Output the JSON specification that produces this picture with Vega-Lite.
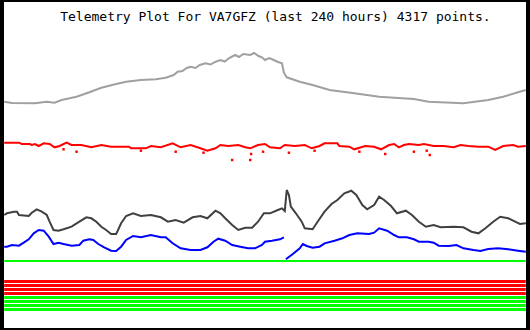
{
  "$schema": "https://vega.github.io/schema/vega-lite/v6.json",
  "width": 530,
  "height": 330,
  "autosize": {"type": "fit", "contains": "padding"},
  "padding": 0,
  "background": "white",
  "config": {"view": {"stroke": "black", "strokeWidth": 4}},
  "datasets": {
    "title": [{"h": 124.8, "v": 309, "label": "Telemetry Plot For VA7GFZ (last 240 hours) 4317 points."}],
    "gray": [
      {"h":0,"v":228.3},{"h":3.6,"v":227},{"h":14.1,"v":226.7},{"h":19.6,"v":228.3},{"h":23.2,"v":227.3},{"h":26.4,"v":230},{"h":33.3,"v":233.3},{"h":39.2,"v":237.7},{"h":44.7,"v":242.3},{"h":51.5,"v":246},{"h":56.1,"v":248.3},{"h":62.9,"v":250},{"h":69.8,"v":250.7},{"h":74.3,"v":252.3},{"h":78,"v":255},{"h":79.8,"v":258.3},{"h":82,"v":259},{"h":84,"v":262},{"h":85.8,"v":263.3},{"h":88,"v":262},{"h":90,"v":265},{"h":92.6,"v":266.7},{"h":95,"v":265.5},{"h":97,"v":268},{"h":99.5,"v":270},{"h":101.5,"v":268.5},{"h":103.5,"v":272},{"h":106.3,"v":275},{"h":108,"v":273},{"h":110,"v":276},{"h":113.2,"v":275},{"h":115,"v":277},{"h":117,"v":274},{"h":118.6,"v":272.7},{"h":120,"v":270},{"h":122,"v":272},{"h":124,"v":270},{"h":126,"v":268},{"h":127.8,"v":266.7},{"h":128.7,"v":257.3},{"h":130,"v":252.7},{"h":136,"v":248.3},{"h":141.9,"v":245},{"h":149.7,"v":240},{"h":161.1,"v":236.7},{"h":172.5,"v":233.3},{"h":188.5,"v":231},{"h":195.3,"v":228.3},{"h":211.3,"v":226.7},{"h":222.7,"v":230},{"h":229.6,"v":233.3},{"h":236.4,"v":237.7},{"h":240,"v":240}
    ],
    "red": [
      {"h":0,"v":187.3},{"h":6.8,"v":187.3},{"h":8.1,"v":186},{"h":11.8,"v":186},{"h":12.7,"v":185},{"h":14.1,"v":186},{"h":15.9,"v":184},{"h":18.2,"v":186.7},{"h":20.9,"v":186},{"h":23.2,"v":182.7},{"h":25.5,"v":184},{"h":28.7,"v":187.3},{"h":31,"v":185},{"h":35.5,"v":185},{"h":40.1,"v":182.7},{"h":44.7,"v":185},{"h":49.2,"v":183.3},{"h":57.4,"v":183.3},{"h":58.4,"v":181.7},{"h":65.2,"v":181.7},{"h":67.5,"v":184},{"h":72.1,"v":182.7},{"h":77.5,"v":186.7},{"h":81.2,"v":182.7},{"h":85.8,"v":185},{"h":90.3,"v":181.7},{"h":93.5,"v":179.3},{"h":97.2,"v":181.7},{"h":99.5,"v":185},{"h":103.1,"v":184},{"h":107.7,"v":185},{"h":110.9,"v":182.7},{"h":113.2,"v":181.7},{"h":116.8,"v":185},{"h":120,"v":186},{"h":122.3,"v":182.7},{"h":126.9,"v":181.7},{"h":129.1,"v":185},{"h":133.7,"v":184},{"h":138.3,"v":185},{"h":141.5,"v":181.7},{"h":145.1,"v":184},{"h":147.4,"v":186.7},{"h":153.3,"v":186.7},{"h":154.2,"v":184},{"h":158.8,"v":183.3},{"h":161.1,"v":180.7},{"h":166.1,"v":184},{"h":170.2,"v":183.3},{"h":173.4,"v":180.7},{"h":177.1,"v":185},{"h":179.4,"v":186},{"h":181.6,"v":182.7},{"h":183.9,"v":185},{"h":186.2,"v":186},{"h":190.8,"v":185},{"h":193.1,"v":186},{"h":197.6,"v":184},{"h":202.2,"v":184},{"h":206.8,"v":182.7},{"h":210,"v":185},{"h":213.6,"v":184},{"h":218.2,"v":183.3},{"h":222.7,"v":183.3},{"h":225.9,"v":180},{"h":229.6,"v":184},{"h":234.2,"v":185},{"h":236.4,"v":183.3},{"h":240,"v":184}
    ],
    "redout": [
      {"h":27.3,"v":180.7},{"h":33.3,"v":178.3},{"h":62.9,"v":179.3},{"h":78.9,"v":178.3},{"h":91.7,"v":177.3},{"h":104.9,"v":170},{"h":113.2,"v":170},{"h":113.6,"v":176},{"h":119.1,"v":178.3},{"h":131,"v":177.3},{"h":142.8,"v":179.3},{"h":163.4,"v":178.3},{"h":175.3,"v":176},{"h":188.5,"v":178.3},{"h":194.4,"v":179.3},{"h":195.8,"v":175}
    ],
    "dark": [
      {"h":0,"v":115},{"h":1.3,"v":116.7},{"h":4.5,"v":118.3},{"h":5.9,"v":118.3},{"h":6.8,"v":115},{"h":11.3,"v":114},{"h":12.7,"v":117.3},{"h":15,"v":120.7},{"h":17.3,"v":118.3},{"h":19.6,"v":115},{"h":20.9,"v":108.3},{"h":22.7,"v":100},{"h":25,"v":99.3},{"h":27.3,"v":100.7},{"h":31,"v":103.3},{"h":34.6,"v":108.3},{"h":37.8,"v":112.7},{"h":40.1,"v":111.7},{"h":42.4,"v":108.3},{"h":44.7,"v":103.3},{"h":46.9,"v":100},{"h":49.2,"v":96},{"h":51.5,"v":96},{"h":52.4,"v":100},{"h":53.8,"v":106.7},{"h":56.1,"v":114},{"h":59.3,"v":116.7},{"h":62.9,"v":114},{"h":67.5,"v":115},{"h":72.1,"v":112.7},{"h":75.3,"v":108.3},{"h":78.9,"v":110},{"h":82.6,"v":107.3},{"h":86.7,"v":112.7},{"h":90.3,"v":114},{"h":93.5,"v":111.7},{"h":97.2,"v":119.3},{"h":99.5,"v":116.7},{"h":101.7,"v":111.7},{"h":104.9,"v":105},{"h":107.7,"v":100},{"h":110.9,"v":102.3},{"h":114.1,"v":102.3},{"h":116.8,"v":108.3},{"h":119.5,"v":116.7},{"h":122.3,"v":116.7},{"h":125.9,"v":120},{"h":127.8,"v":121.7},{"h":129.1,"v":119},{"h":130,"v":140},{"h":131,"v":135},{"h":131.9,"v":123.3},{"h":134.2,"v":116.7},{"h":136.9,"v":108.3},{"h":138.3,"v":101.7},{"h":141.9,"v":100.7},{"h":144.2,"v":108.3},{"h":147.4,"v":118.3},{"h":150.6,"v":126},{"h":153.3,"v":130},{"h":156.5,"v":136.7},{"h":159.7,"v":139.3},{"h":162,"v":135},{"h":164.8,"v":125},{"h":167,"v":120.7},{"h":170.2,"v":125},{"h":172.5,"v":133.3},{"h":174.8,"v":130},{"h":178,"v":124},{"h":180.7,"v":116.7},{"h":184.8,"v":119.3},{"h":187.6,"v":115},{"h":190.8,"v":108.3},{"h":194,"v":103.3},{"h":197.6,"v":105},{"h":200.8,"v":102.7},{"h":206.8,"v":103.3},{"h":211.3,"v":102.7},{"h":215,"v":98.3},{"h":218.2,"v":96.7},{"h":221.4,"v":101.7},{"h":225,"v":108.3},{"h":228.2,"v":113.3},{"h":231.9,"v":111.7},{"h":235.1,"v":108.3},{"h":237.3,"v":106},{"h":240,"v":106.7}
    ],
    "blue": [
      {"seg":"a","h":0,"v":83.3},{"seg":"a","h":1.3,"v":83.3},{"seg":"a","h":3.6,"v":85},{"seg":"a","h":6.8,"v":84.3},{"seg":"a","h":9,"v":87.3},{"seg":"a","h":11.3,"v":90.7},{"seg":"a","h":13.6,"v":96.7},{"seg":"a","h":15.9,"v":100},{"seg":"a","h":18.2,"v":99.3},{"seg":"a","h":20.5,"v":93.3},{"seg":"a","h":22.7,"v":86},{"seg":"a","h":25,"v":87.3},{"seg":"a","h":27.3,"v":86},{"seg":"a","h":31,"v":84.3},{"seg":"a","h":34.6,"v":85},{"seg":"a","h":36.4,"v":89.3},{"seg":"a","h":39.2,"v":90.7},{"seg":"a","h":41,"v":90},{"seg":"a","h":43.3,"v":86},{"seg":"a","h":46,"v":82.7},{"seg":"a","h":49.2,"v":79.3},{"seg":"a","h":51.5,"v":79},{"seg":"a","h":53.8,"v":83.3},{"seg":"a","h":56.1,"v":90},{"seg":"a","h":59.3,"v":94},{"seg":"a","h":62.9,"v":92.7},{"seg":"a","h":67.5,"v":95},{"seg":"a","h":72.1,"v":92.7},{"seg":"a","h":74.3,"v":92.7},{"seg":"a","h":77.5,"v":86.7},{"seg":"a","h":81.2,"v":81.7},{"seg":"a","h":85.8,"v":80},{"seg":"a","h":90.3,"v":80},{"seg":"a","h":93.5,"v":82.7},{"seg":"a","h":96.3,"v":88.3},{"seg":"a","h":98.5,"v":91.3},{"seg":"a","h":101.7,"v":89.3},{"seg":"a","h":104.9,"v":85},{"seg":"a","h":108.6,"v":83.3},{"seg":"a","h":112.2,"v":81.7},{"seg":"a","h":115.4,"v":81.7},{"seg":"a","h":118.6,"v":85},{"seg":"a","h":120,"v":88.3},{"seg":"a","h":123.2,"v":89.3},{"seg":"a","h":126.9,"v":90.7},{"seg":"a","h":128.7,"v":92.7},
      {"seg":"b","h":129.6,"v":70.7},{"seg":"b","h":132.8,"v":76},{"seg":"b","h":136,"v":81.7},{"seg":"b","h":137.4,"v":86},{"seg":"b","h":139.2,"v":84},{"seg":"b","h":141.9,"v":82.3},{"seg":"b","h":145.1,"v":83.3},{"seg":"b","h":147.4,"v":86.7},{"seg":"b","h":152,"v":89.3},{"seg":"b","h":155.6,"v":91.7},{"seg":"b","h":158.8,"v":95},{"seg":"b","h":162.5,"v":96.7},{"seg":"b","h":167.9,"v":96},{"seg":"b","h":170.2,"v":97.3},{"seg":"b","h":172.5,"v":101.7},{"seg":"b","h":176.2,"v":99.3},{"seg":"b","h":179.4,"v":95},{"seg":"b","h":181.6,"v":92.7},{"seg":"b","h":185.3,"v":92.7},{"seg":"b","h":188.5,"v":90.7},{"seg":"b","h":190.8,"v":88.3},{"seg":"b","h":195.3,"v":88.3},{"seg":"b","h":197.6,"v":87.3},{"seg":"b","h":199.9,"v":84.3},{"seg":"b","h":204.5,"v":84},{"seg":"b","h":208.1,"v":85},{"seg":"b","h":211.3,"v":81.7},{"seg":"b","h":215.9,"v":80},{"seg":"b","h":219.1,"v":79},{"seg":"b","h":222.7,"v":81},{"seg":"b","h":227.3,"v":81.7},{"seg":"b","h":231.9,"v":80.7},{"seg":"b","h":236.4,"v":79.3},{"seg":"b","h":240,"v":78.3}
    ],
    "bands": [
      {"kind": "baseline", "v": 69, "h": 0, "h2": 240},
      {"kind": "alarm", "v": 48.5, "h": 0, "h2": 240},
      {"kind": "alarm", "v": 44.5, "h": 0, "h2": 240},
      {"kind": "alarm", "v": 40.5, "h": 0, "h2": 240},
      {"kind": "alarm", "v": 36.5, "h": 0, "h2": 240},
      {"kind": "ok", "v": 32.5, "h": 0, "h2": 240},
      {"kind": "ok", "v": 28.5, "h": 0, "h2": 240},
      {"kind": "ok", "v": 24.5, "h": 0, "h2": 240},
      {"kind": "ok", "v": 20.5, "h": 0, "h2": 240}
    ]
  },
  "encoding": {
    "x": {"field": "h", "type": "quantitative", "scale": {"domain": [-1, 241], "nice": false, "zero": false}, "axis": null},
    "y": {"field": "v", "type": "quantitative", "scale": {"domain": [0, 330], "nice": false, "zero": false}, "axis": null}
  },
  "layer": [
    {"data": {"name": "gray"}, "mark": {"type": "line", "color": "#a0a0a0", "strokeWidth": 2}},
    {"data": {"name": "red"}, "mark": {"type": "line", "color": "#ff0000", "strokeWidth": 2}},
    {"data": {"name": "redout"}, "mark": {"type": "square", "color": "#ff0000", "filled": true, "opacity": 1, "size": 6}},
    {"data": {"name": "dark"}, "mark": {"type": "line", "color": "#404040", "strokeWidth": 2}},
    {"data": {"name": "blue"}, "mark": {"type": "line", "color": "#0000ff", "strokeWidth": 2}, "encoding": {"detail": {"field": "seg"}}},
    {"data": {"name": "bands"}, "transform": [{"filter": "datum.kind === 'baseline'"}], "mark": {"type": "rule", "color": "#00ff00", "strokeWidth": 2}, "encoding": {"x2": {"field": "h2"}}},
    {"data": {"name": "bands"}, "transform": [{"filter": "datum.kind === 'alarm'"}], "mark": {"type": "rule", "color": "#ff0000", "strokeWidth": 3}, "encoding": {"x2": {"field": "h2"}}},
    {"data": {"name": "bands"}, "transform": [{"filter": "datum.kind === 'ok'"}], "mark": {"type": "rule", "color": "#00ff00", "strokeWidth": 3}, "encoding": {"x2": {"field": "h2"}}},
    {"data": {"name": "title"}, "mark": {"type": "text", "font": "DejaVu Sans Mono", "fontSize": 13, "color": "black", "align": "center", "baseline": "alphabetic"}, "encoding": {"text": {"field": "label"}}}
  ]
}
